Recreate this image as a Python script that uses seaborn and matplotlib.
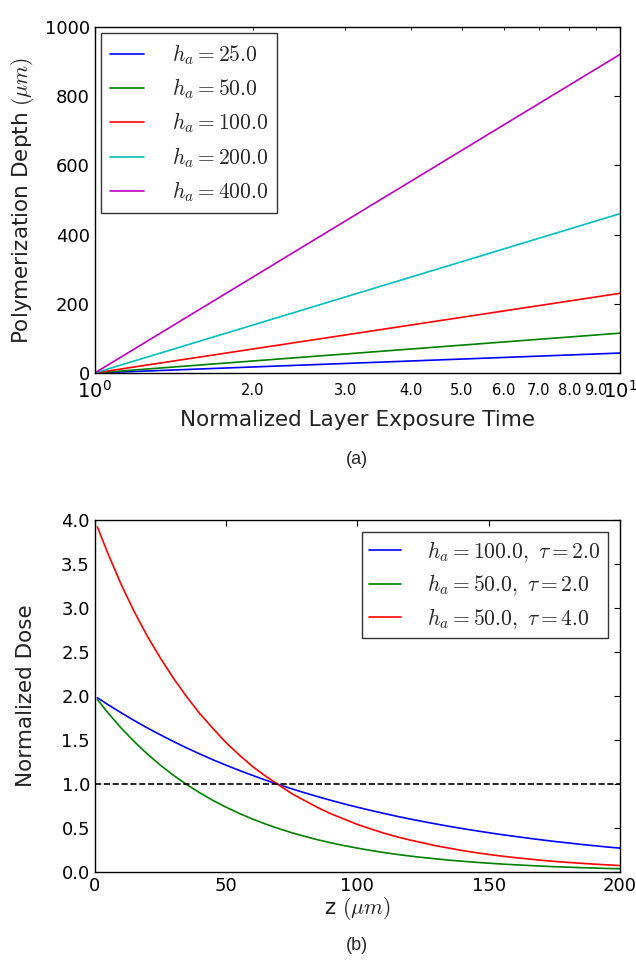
import matplotlib
matplotlib.use("Agg")
import matplotlib.pyplot as plt
import matplotlib.ticker as mticker
import seaborn as sns
import pandas as pd

# ---- data ----
# Panel (a): depth vs normalized exposure time (straight lines on log x)
t_points = [1.0, 10.0]
ha_labels = ["25.0", "50.0", "100.0", "200.0", "400.0"]
depth_ha25 = [0.0, 57.6]
depth_ha50 = [0.0, 115.1]
depth_ha100 = [0.0, 230.3]
depth_ha200 = [0.0, 460.5]
depth_ha400 = [0.0, 921.0]

# Panel (b): normalized dose vs z
z_vals = [1, 5, 10, 15, 20, 25, 30, 35, 40, 45, 50, 55, 60, 65, 70, 75, 80, 85, 90, 95,
          100, 105, 110, 115, 120, 125, 130, 135, 140, 145, 150, 155, 160, 165, 170,
          175, 180, 185, 190, 195, 200]
dose_ha100_tau2 = [1.98, 1.902, 1.810, 1.721, 1.637, 1.558, 1.482, 1.409, 1.341, 1.275,
                   1.213, 1.154, 1.098, 1.044, 0.993, 0.945, 0.899, 0.855, 0.813, 0.773,
                   0.736, 0.700, 0.666, 0.633, 0.602, 0.573, 0.545, 0.518, 0.493, 0.469,
                   0.446, 0.424, 0.404, 0.384, 0.365, 0.347, 0.331, 0.314, 0.299, 0.284,
                   0.271]
dose_ha50_tau2 = [1.96, 1.810, 1.637, 1.482, 1.341, 1.213, 1.098, 0.993, 0.899, 0.813,
                  0.736, 0.666, 0.602, 0.545, 0.493, 0.446, 0.404, 0.365, 0.331, 0.299,
                  0.271, 0.245, 0.221, 0.200, 0.181, 0.164, 0.149, 0.134, 0.122, 0.110,
                  0.100, 0.090, 0.082, 0.074, 0.067, 0.060, 0.055, 0.049, 0.045, 0.040,
                  0.037]
dose_ha50_tau4 = [3.92, 3.62, 3.27, 2.96, 2.68, 2.43, 2.20, 1.99, 1.80, 1.63,
                  1.47, 1.33, 1.20, 1.09, 0.99, 0.89, 0.81, 0.73, 0.66, 0.60,
                  0.54, 0.49, 0.442, 0.40, 0.363, 0.33, 0.297, 0.27, 0.243, 0.22,
                  0.199, 0.18, 0.163, 0.148, 0.133, 0.12, 0.109, 0.099, 0.089, 0.081,
                  0.073]
dose_labels = [r"$h_a = 100.0,\ \tau = 2.0$", r"$h_a = 50.0,\ \tau = 2.0$",
               r"$h_a = 50.0,\ \tau = 4.0$"]
threshold = [1.0, 1.0]
threshold_z = [0, 200]

# ---- style ----
sns.set_style("white")
plt.rcParams.update({
    "font.family": ["DejaVu Sans"],
    "mathtext.fontset": "cm",
    "xtick.direction": "in",
    "ytick.direction": "in",
    "xtick.top": True,
    "ytick.right": True,
    "xtick.major.size": 4,
    "ytick.major.size": 4,
    "xtick.minor.size": 2,
    "ytick.minor.size": 2,
    "axes.edgecolor": "black",
    "axes.linewidth": 1.0,
    "xtick.color": "black",
    "ytick.color": "black",
    "axes.labelcolor": "#222222",
})

colors_a = ["#0000ff", "#008000", "#ff0000", "#00bfbf", "#bf00bf"]
colors_b = ["#0000ff", "#008000", "#ff0000"]

fig = plt.figure(figsize=(6.36, 9.65), dpi=100)
ax1 = fig.add_axes([0.149, 0.6135, 0.826, 0.3585])
ax2 = fig.add_axes([0.149, 0.0964, 0.826, 0.3648])

# ---- panel (a) ----
series_a = [depth_ha25, depth_ha50, depth_ha100, depth_ha200, depth_ha400]
rows = []
for lab, ys in zip(ha_labels, series_a):
    for t, y in zip(t_points, ys):
        rows.append({"t": t, "depth": y, "series": r"$h_a = %s$" % lab})
df_a = pd.DataFrame(rows)
ax1.set_xscale("log")
sns.lineplot(data=df_a, x="t", y="depth", hue="series", palette=colors_a,
             ax=ax1, linewidth=1.2)
ax1.set_xlim(1, 10)
ax1.set_ylim(0, 1000)
ax1.set_yticks([0, 200, 400, 600, 800, 1000])
ax1.xaxis.set_major_locator(mticker.LogLocator(base=10))
ax1.xaxis.set_minor_locator(mticker.LogLocator(base=10, subs=range(2, 10)))
ax1.xaxis.set_major_formatter(mticker.LogFormatterSciNotation())
ax1.xaxis.set_minor_formatter(mticker.FormatStrFormatter("%.1f"))
ax1.tick_params(axis="x", which="major", labelsize=14, pad=5)
ax1.tick_params(axis="x", which="minor", labelsize=10.5, pad=7)
ax1.tick_params(axis="y", labelsize=13)
ax1.set_xlabel("Normalized Layer Exposure Time", fontsize=15.5, labelpad=6)
ax1.set_ylabel(r"Polymerization Depth $(\mu m)$", fontsize=15.5, labelpad=6)
leg1 = ax1.legend(loc="upper left", fontsize=15.5, frameon=True, fancybox=False,
                  edgecolor="black", handlelength=1.6, handletextpad=1.3,
                  borderpad=0.4, labelspacing=0.45, borderaxespad=0.3)
leg1.get_frame().set_linewidth(1.0)
for spine in ax1.spines.values():
    spine.set_visible(True)

# ---- panel (b) ----
rows = []
for lab, ys in zip(dose_labels, [dose_ha100_tau2, dose_ha50_tau2, dose_ha50_tau4]):
    for z, y in zip(z_vals, ys):
        rows.append({"z": z, "dose": y, "series": lab})
df_b = pd.DataFrame(rows)
sns.lineplot(data=df_b, x="z", y="dose", hue="series", palette=colors_b,
             ax=ax2, linewidth=1.2)
ax2.plot(threshold_z, threshold, color="black", linestyle="--", linewidth=1.2)
ax2.set_xlim(0, 200)
ax2.set_ylim(0, 4.0)
ax2.set_xticks([0, 50, 100, 150, 200])
ax2.set_yticks([0.0, 0.5, 1.0, 1.5, 2.0, 2.5, 3.0, 3.5, 4.0])
ax2.yaxis.set_major_formatter(mticker.FormatStrFormatter("%.1f"))
ax2.tick_params(axis="both", labelsize=13)
ax2.set_xlabel(r"z $(\mu m)$", fontsize=15.5, labelpad=0)
ax2.set_ylabel("Normalized Dose", fontsize=15.5, labelpad=18)
leg2 = ax2.legend(loc="upper right", fontsize=15.5, frameon=True, fancybox=False,
                  edgecolor="black", handlelength=1.5, handletextpad=1.2,
                  borderpad=0.35, labelspacing=0.4, borderaxespad=0.55)
leg2.get_frame().set_linewidth(1.0)
for spine in ax2.spines.values():
    spine.set_visible(True)

# ---- captions ----
fig.text(0.562, 1 - 460 / 965, "(a)", ha="center", va="center", fontsize=13,
         family=["Liberation Sans", "DejaVu Sans"])
fig.text(0.562, 1 - 945 / 965, "(b)", ha="center", va="center", fontsize=13,
         family=["Liberation Sans", "DejaVu Sans"])

fig.savefig("out.png", dpi=100)
